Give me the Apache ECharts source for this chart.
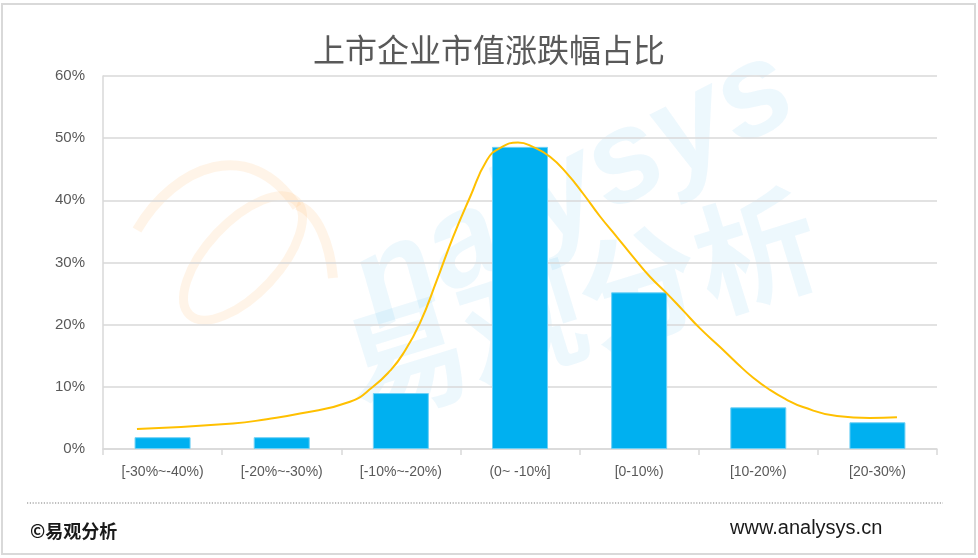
<!DOCTYPE html>
<html>
<head>
<meta charset="utf-8">
<script src="https://cdn.jsdelivr.net/npm/echarts@6/dist/echarts.min.js"></script>
<style>html,body{margin:0;padding:0;background:#fff;}#c{width:978px;height:558px;}</style>
</head>
<body>
<div id="c"></div>
<script>
var categories = ['[-30%~-40%)', '[-20%~-30%)', '[-10%~-20%)', '(0~ -10%]', '[0-10%)', '[10-20%)', '[20-30%)'];
var barValues = [1.9, 1.9, 9.0, 48.6, 25.2, 6.7, 4.3];
// trend curve: [position in category units, percent]
var curveX = [0.285, 1.091, 1.374, 1.654, 2.073, 2.266, 2.410, 2.518, 2.661, 2.803, 2.938, 3.080, 3.223, 3.332, 3.483, 3.609, 3.752, 3.895, 4.029, 4.172, 4.314, 4.449, 4.591, 4.734, 4.868, 5.011, 5.179, 5.321, 5.455, 5.598, 5.732, 5.875, 6.161, 6.437, 6.664];
var curveY = [3.2, 4.1, 4.8, 5.7, 7.6, 10.0, 12.6, 15.3, 20.3, 27.2, 34.1, 40.5, 46.5, 48.4, 49.3, 48.6, 47.0, 44.3, 41.1, 37.4, 34.1, 30.9, 27.7, 25.0, 22.3, 19.4, 16.4, 13.8, 11.5, 9.5, 8.0, 6.75, 5.3, 5.0, 5.1];
var yTicks = [0, 10, 20, 30, 40, 50, 60];

var curveData = curveX.map(function (x, i) { return [x, curveY[i]]; });

var chart = echarts.init(document.getElementById('c'));
var labelColor = '#595959';
var swirl = 'rgba(255,190,120,0.17)';
chart.setOption({
  animation: false,
  backgroundColor: '#fff',
  title: {
    text: '上市企业市值涨跌幅占比',
    left: 'center',
    top: 29,
    textStyle: { fontFamily: 'Noto Sans CJK SC', fontSize: 32, fontWeight: 'normal', color: labelColor }
  },
  grid: { left: 103, right: 41, top: 76, bottom: 109 },
  xAxis: [{
    type: 'category',
    data: categories,
    boundaryGap: true,
    axisLine: { lineStyle: { color: '#d9d9d9', width: 1.5 } },
    axisTick: { show: true, length: 6, lineStyle: { color: '#d9d9d9', width: 1.5 } },
    axisLabel: { color: labelColor, fontSize: 14, fontFamily: 'Liberation Sans', margin: 16 }
  }, {
    type: 'value', min: 0, max: 7, show: false
  }],
  yAxis: {
    type: 'value', min: 0, max: 60, interval: 10,
    axisLine: { show: true, lineStyle: { color: '#d9d9d9', width: 1.5 } },
    axisTick: { show: false },
    splitLine: { lineStyle: { color: '#d9d9d9', width: 1.5 } },
    axisLabel: {
      color: labelColor, fontSize: 15, fontFamily: 'Liberation Sans', margin: 18,
      formatter: function (v) { return yTicks.indexOf(v) >= 0 ? v + '%' : ''; }
    }
  },
  graphic: [
    { type: 'rect', shape: { x: 2, y: 4, width: 973, height: 550 }, style: { fill: 'none', stroke: '#d9d9d9', lineWidth: 2 }, z: -10 },
    { type: 'bezierCurve', shape: { x1: 137, y1: 230, cpx1: 175, cpy1: 165, cpx2: 250, cpy2: 135, x2: 297, y2: 207 },
      style: { fill: 'none', stroke: swirl, lineWidth: 10 }, z: -5 },
    { type: 'bezierCurve', shape: { x1: 297, y1: 205, cpx1: 318, cpy1: 212, cpx2: 330, cpy2: 245, x2: 333, y2: 278 },
      style: { fill: 'none', stroke: swirl, lineWidth: 10 }, z: -5 },
    { type: 'ellipse', shape: { cx: 243, cy: 258, rx: 78, ry: 36 }, rotation: 0.82, originX: 243, originY: 258,
      style: { fill: 'none', stroke: swirl, lineWidth: 9 }, z: -5 },
    { type: 'text', x: 332, y: 240, rotation: 0.47, style: { text: 'nalysys', font: 'italic bold 130px "Liberation Sans"', fill: 'rgba(0,160,230,0.07)' }, z: -5 },
    { type: 'text', x: 330, y: 318, rotation: 0.3, style: { text: '易观分析', font: 'bold 122px "Noto Sans CJK SC"', fill: 'rgba(0,160,230,0.07)' }, z: -5 },
    { type: 'line', shape: { x1: 27, y1: 503, x2: 943, y2: 503 }, style: { stroke: '#7f7f7f', lineWidth: 1.2, lineDash: [1.2, 1.6] } },
    { type: 'text', x: 30, y: 531, style: { text: '©易观分析', font: 'bold 18px "Noto Sans CJK SC"', fill: '#1a1a1a', verticalAlign: 'middle' } },
    { type: 'text', x: 730, y: 528, style: { text: 'www.analysys.cn', font: '20px "Liberation Sans"', fill: '#1a1a1a', verticalAlign: 'middle' } }
  ],
  series: [{
    type: 'bar',
    data: barValues,
    barWidth: '47%',
    itemStyle: { color: '#00B0F0', borderColor: '#6fd0f5', borderWidth: 1 },
    z: 2
  }, {
    type: 'line',
    xAxisIndex: 1,
    data: curveData,
    smooth: 0.5,
    showSymbol: false,
    symbol: 'none',
    lineStyle: { color: '#FFC000', width: 2 },
    z: 3
  }]
});
</script>
</body>
</html>
